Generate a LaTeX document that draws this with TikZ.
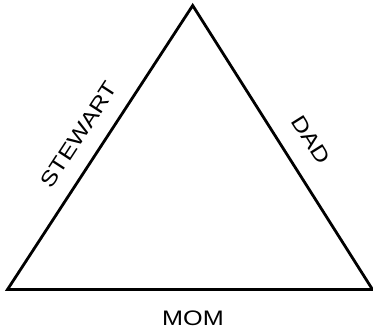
\documentclass[tikz,border=0pt]{standalone}
\usepackage{fontspec}
\setmainfont{Liberation Sans}
\newcommand{\widetext}[1]{\scalebox{1.2}[1]{#1}}
\tikzset{
  side/.style={line width=2.8pt, line join=miter},
  lbl/.style={font=\fontsize{21}{25}\selectfont, inner sep=0pt, text=black}
}
\begin{document}
\begin{tikzpicture}[x=1pt,y=-1pt]
\useasboundingbox (0,0) rectangle (373,330);
\coordinate (A) at (192.7,5.5);
\coordinate (B) at (7.5,289.5);
\coordinate (C) at (372.5,289.5);
\draw[side] (A) -- (B) -- (C) -- cycle;
\node[lbl, rotate=56.9] (stewart) at (79,135) {\widetext{STEWART}};
\node[lbl, rotate=-57.9] (dad) at (311,140) {\widetext{DAD}};
\node[lbl] (mom) at (193,318.5) {\widetext{MOM}};
\end{tikzpicture}
\end{document}
